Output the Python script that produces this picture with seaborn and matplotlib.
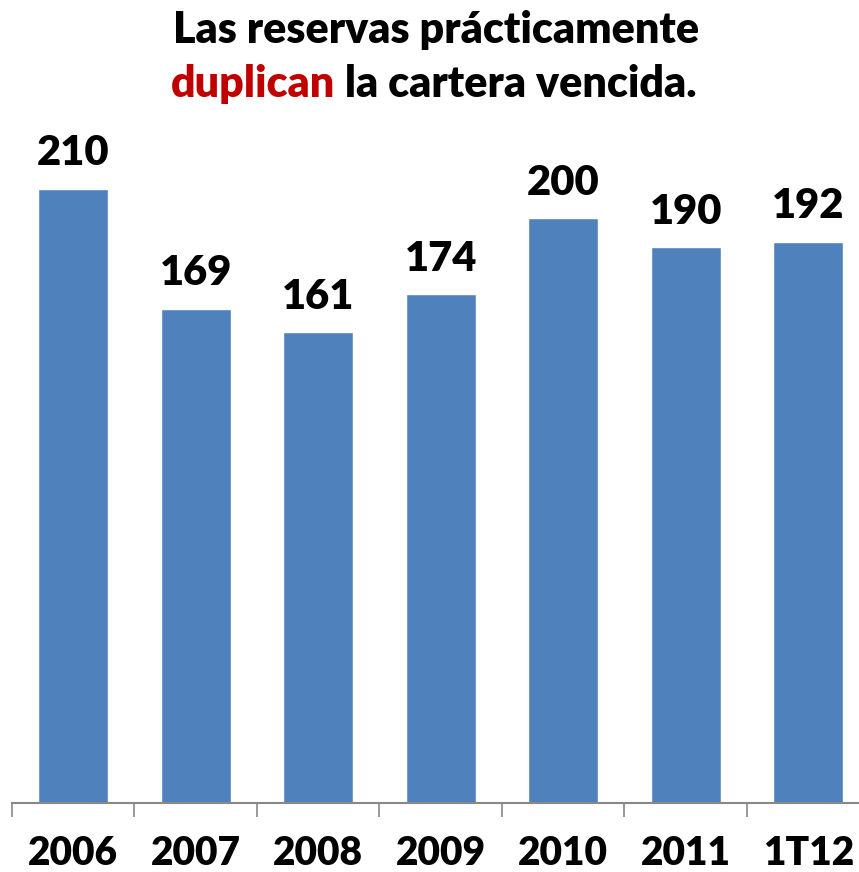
import matplotlib
matplotlib.use('Agg')
import matplotlib.pyplot as plt
import seaborn as sns
from matplotlib.ticker import FixedLocator

# Datos de la gráfica
periodos = ['2006', '2007', '2008', '2009', '2010', '2011', '1T12']
reservas = [210, 169, 161, 174, 200, 190, 192]

sns.set_style('white')
plt.rcParams['font.family'] = ['Lato', 'DejaVu Sans']
peso = 'heavy'

fig = plt.figure(figsize=(8.59, 8.72), dpi=100)
# El eje se sale un poco por la derecha, como en la original
ax = fig.add_axes([12 / 859, 69 / 872, 857.5 / 859, 672.5 / 872])

sns.barplot(x=periodos, y=reservas, color='#4F81BD', saturation=1, width=0.575, ax=ax)

ax.set_xlim(-0.5, 6.5)
ax.set_ylim(0, 230)

# Etiquetas de valor sobre cada barra
for i, v in enumerate(reservas):
    ax.annotate(str(v), (i, v), xytext=(0, 12), textcoords='offset points',
                ha='center', va='bottom', fontsize=30, fontweight=peso, color='black')

# Ejes
sns.despine(ax=ax, left=True, top=True, right=True)
ax.spines['bottom'].set_color('#888888')
ax.spines['bottom'].set_linewidth(1.5)
ax.set_yticks([])
ax.set_xlabel('')
ax.set_ylabel('')
ax.xaxis.set_minor_locator(FixedLocator([i - 0.5 for i in range(8)]))
ax.tick_params(axis='x', which='minor', length=10, width=1.2, color='#888888', bottom=True)
ax.tick_params(axis='x', which='major', length=0, pad=23, labelsize=28, labelcolor='black')
for lbl in ax.get_xticklabels():
    lbl.set_fontweight(peso)

# Titulo en dos lineas, con "duplican" en rojo
fig.text(436 / 859, 1 - 30 / 872, 'Las reservas prácticamente', ha='center', va='center',
         fontsize=31, fontweight=peso, color='black')
fig.canvas.draw()
r = fig.canvas.get_renderer()
t1 = fig.text(0, 1 - 84 / 872, 'duplican', ha='left', va='center',
              fontsize=31, fontweight=peso, color='#C00000')
t2 = fig.text(0, 1 - 84 / 872, ' la cartera vencida.', ha='left', va='center',
              fontsize=31, fontweight=peso, color='black')
w1 = t1.get_window_extent(r).width
w2 = t2.get_window_extent(r).width
x0 = (434 - (w1 + w2) / 2) / 859
t1.set_x(x0)
t2.set_x(x0 + w1 / 859)

fig.savefig('out.png', dpi=100)
